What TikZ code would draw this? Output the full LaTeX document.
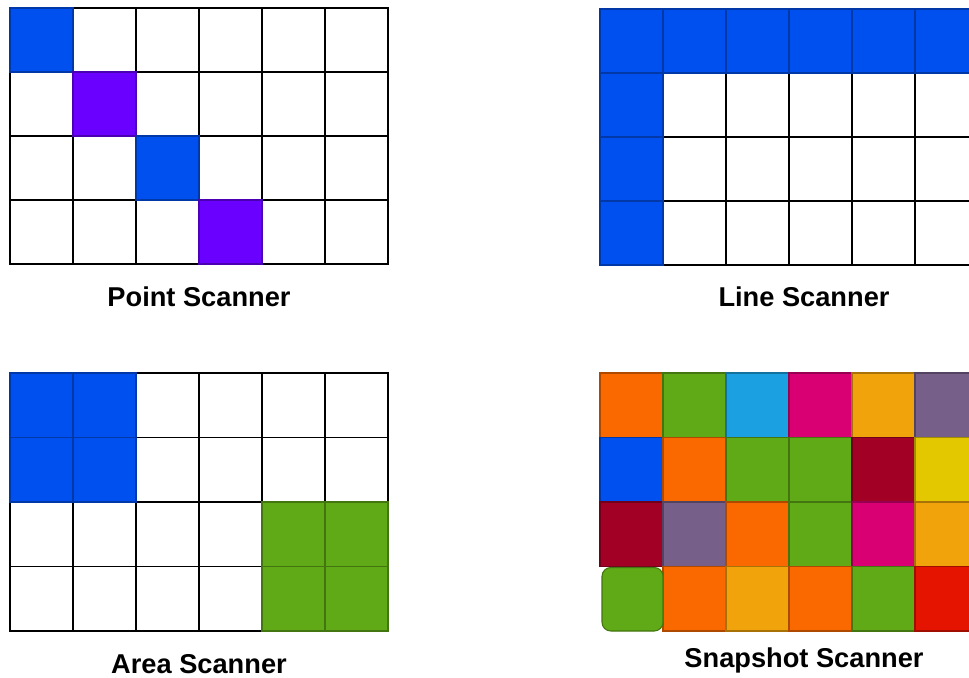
\documentclass[tikz,border=0pt]{standalone}
\usepackage{fontspec}
\setmainfont{Liberation Sans}
\usetikzlibrary{positioning}

\definecolor{scBlue}{HTML}{0050EF}
\definecolor{scPurple}{HTML}{6A00FF}
\definecolor{scGreen}{HTML}{60A917}
\definecolor{scOrange}{HTML}{FA6800}
\definecolor{scCyan}{HTML}{1BA1E2}
\definecolor{scMagenta}{HTML}{D80073}
\definecolor{scAmber}{HTML}{F0A30A}
\definecolor{scMauve}{HTML}{76608A}
\definecolor{scCrimson}{HTML}{A20025}
\definecolor{scYellow}{HTML}{E3C800}
\definecolor{scRed}{HTML}{E51400}

\begin{document}
\begin{tikzpicture}[x=0.02cm, y=-0.02cm,
    cell/.style={draw=black, line width=0.9pt, fill=white},
    fcell/.style={draw=#1!70!black, line width=0.6pt, fill=#1},
    lbl/.style={font=\bfseries\fontsize{15.5}{18}\selectfont}
]
\clip (0,0) rectangle (969,677);
\fill[white] (0,0) rectangle (969,677);

% point scanner
\foreach \c in {0,...,5}
  \foreach \r in {0,...,3}
    \draw[cell] ({10+63*\c},{8+64*\r}) rectangle ++(63,64);
\foreach \c/\r/\col in {0/0/scBlue, 1/1/scPurple, 2/2/scBlue, 3/3/scPurple}
  \draw[fcell=\col] ({10+63*\c},{8+64*\r}) rectangle ++(63,64);
\node[lbl] (point) at (199,297) {Point Scanner};

% line scanner
\foreach \c in {0,...,5}
  \foreach \r in {0,...,3}
    \draw[cell] ({600+63*\c},{9+64*\r}) rectangle ++(63,64);
\foreach \c in {0,...,5}
  \draw[fcell=scBlue] ({600+63*\c},9) rectangle ++(63,64);
\foreach \r in {1,2,3}
  \draw[fcell=scBlue] (600,{9+64*\r}) rectangle ++(63,64);
\node[lbl] (line) at (804,297) {Line Scanner};

% area scanner
\foreach \c in {0,...,5}
  \foreach \r in {0,...,3}
    \draw[cell] ({10+63*\c},{373+64.5*\r}) rectangle ++(63,64.5);
\foreach \c/\r in {0/0, 1/0, 0/1, 1/1}
  \draw[fcell=scBlue] ({10+63*\c},{373+64.5*\r}) rectangle ++(63,64.5);
\foreach \c/\r in {4/2, 5/2, 4/3, 5/3}
  \draw[fcell=scGreen] ({10+63*\c},{373+64.5*\r}) rectangle ++(63,64.5);
\node[lbl] (area) at (199,664) {Area Scanner};

% snapshot scanner
\foreach \c/\r/\col in {
    0/0/scOrange, 1/0/scGreen, 2/0/scCyan, 3/0/scMagenta, 4/0/scAmber, 5/0/scMauve,
    0/1/scBlue, 1/1/scOrange, 2/1/scGreen, 3/1/scGreen, 4/1/scCrimson, 5/1/scYellow,
    0/2/scCrimson, 1/2/scMauve, 2/2/scOrange, 3/2/scGreen, 4/2/scMagenta, 5/2/scAmber,
    1/3/scOrange, 2/3/scAmber, 3/3/scOrange, 4/3/scGreen, 5/3/scRed}
  \draw[fcell=\col] ({600+63*\c},{373+64.5*\r}) rectangle ++(63,64.5);
\draw[fcell=scGreen, rounded corners=5pt] (602,{373+64.5*3+1}) rectangle (663,631);
\node[lbl] (snapshot) at (804,660) {Snapshot Scanner};
\end{tikzpicture}
\end{document}
